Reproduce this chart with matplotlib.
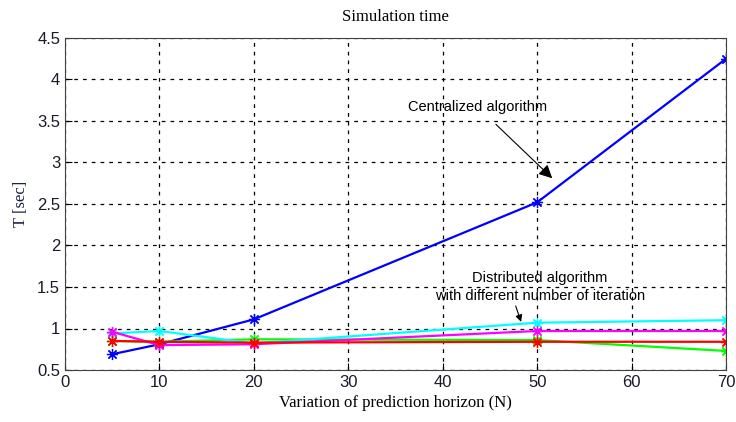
import matplotlib
matplotlib.use("Agg")
import matplotlib.pyplot as plt

# prediction horizon values and simulation times
N = [5, 10, 20, 50, 70]
t_central = [0.69, 0.81, 1.11, 2.52, 4.25]
t_green = [0.85, 0.84, 0.87, 0.86, 0.73]
t_cyan = [0.94, 0.97, 0.82, 1.07, 1.10]
t_magenta = [0.96, 0.80, 0.81, 0.97, 0.97]
t_red = [0.85, 0.84, 0.83, 0.84, 0.84]

fig = plt.figure(figsize=(7.36, 4.22), dpi=100)
ax = fig.add_axes([65/736, 1-370/422, 661/736, 332/422])

kw = dict(marker=(8, 2, 0), markersize=8, markeredgewidth=0.9, linewidth=1.6)
ax.plot(N, t_central, color="#0000ff", **kw)
ax.plot(N, t_green, color="#00ff00", **kw)
ax.plot(N, t_cyan, color="#00ffff", **kw)
ax.plot(N, t_magenta, color="#ff00ff", **kw)
ax.plot(N, t_red, color="#ff0000", **kw)

ax.set_xlim(0, 70)
ax.set_ylim(0.5, 4.5)
ax.set_xticks(range(0, 71, 10))
ax.set_yticks([0.5, 1, 1.5, 2, 2.5, 3, 3.5, 4, 4.5])
ax.set_yticklabels(["0.5", "1", "1.5", "2", "2.5", "3", "3.5", "4", "4.5"])
ax.grid(True, color="black", linestyle=(0, (3, 4)), linewidth=0.9)
ax.tick_params(direction="in", labelsize=12, length=5)
for lab in ax.get_xticklabels() + ax.get_yticklabels():
    lab.set_family("Liberation Sans")
    lab.set_color("#1a1a2a")
for s in ax.spines.values():
    s.set_color("#404040")

ax.set_title("Simulation time", family="Liberation Serif", fontsize=12, pad=12)
ax.set_xlabel("Variation of prediction horizon (N)", family="Liberation Serif", fontsize=12, labelpad=4)
ax.set_ylabel("T [sec]", family="Liberation Serif", fontsize=12, labelpad=6, color="#1a2040")

ax.annotate("Centralized algorithm", xy=(51.6, 2.81), xytext=(43.7, 3.67),
            ha="center", va="center", family="Liberation Sans", fontsize=10.5,
            arrowprops=dict(arrowstyle="-|>", color="black", lw=0.8, mutation_scale=20,
                            shrinkA=8, shrinkB=0))
ax.annotate("Distributed algorithm\nwith different number of iteration",
            xy=(48.3, 1.08), xytext=(50.3, 1.5),
            ha="center", va="center", family="Liberation Sans", fontsize=10.5,
            linespacing=1.4,
            arrowprops=dict(arrowstyle="-|>", color="black", lw=0.8, mutation_scale=10,
                            shrinkA=0, shrinkB=0, relpos=(0.38, 0)))

fig.savefig("out.png", dpi=100)
